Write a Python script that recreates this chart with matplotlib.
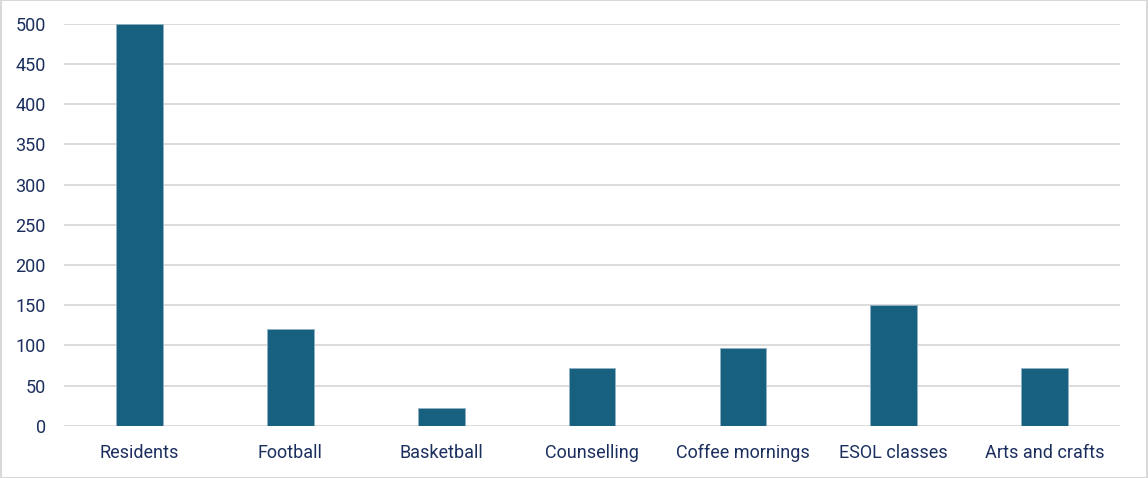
import matplotlib
matplotlib.use("Agg")
import matplotlib.pyplot as plt
from matplotlib.patches import Rectangle

categories = ["Residents", "Football", "Basketball", "Counselling",
              "Coffee mornings", "ESOL classes", "Arts and crafts"]
values = [500, 120, 22, 72, 97, 150, 72]
yticks = [0, 50, 100, 150, 200, 250, 300, 350, 400, 450, 500]

bar_color = "#17607F"
text_color = "#1B2F5E"
grid_color = "#D9D9D9"

plt.rcParams['font.family'] = ['Roboto', 'DejaVu Sans']

fig = plt.figure(figsize=(11.48, 4.78), dpi=100)
ax = fig.add_axes([0.0557, 0.109, 0.92, 0.841])

x = range(len(categories))
ax.bar(x, values, width=0.31, color=bar_color, edgecolor="#8FB3C4",
       linewidth=0.6, zorder=3)

ax.set_xlim(-0.5, len(categories) - 0.5)
ax.set_ylim(0, 500)
ax.set_yticks(yticks)
ax.set_xticks(list(x))
ax.set_xticklabels(categories)
ax.grid(axis="y", color=grid_color, linewidth=1.3, zorder=0)
for s in ax.spines.values():
    s.set_visible(False)
ax.tick_params(length=0, labelsize=13, colors=text_color)
ax.tick_params(axis="x", pad=13)
ax.tick_params(axis="y", pad=13)

# light border round the whole chart
fig.patches.append(Rectangle((0.001, 0.001), 0.998, 0.998, transform=fig.transFigure,
                             fill=False, edgecolor="#D9D9D9", linewidth=1.5))

fig.savefig("out.png", dpi=100)
